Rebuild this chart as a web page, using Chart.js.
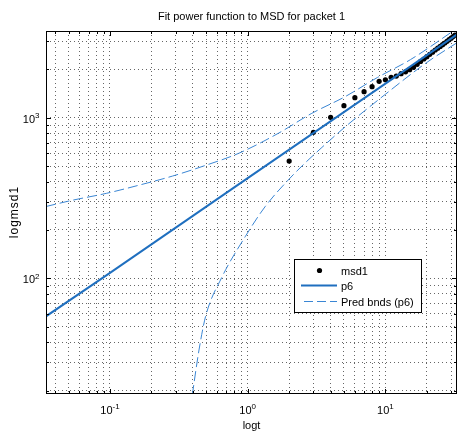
<!DOCTYPE html>
<html>
<head>
<meta charset="utf-8">
<script src="https://cdn.jsdelivr.net/npm/chart.js@4.4.1/dist/chart.umd.min.js"></script>
<style>
  html, body { margin: 0; padding: 0; background: #fff; }
  #wrap { width: 461px; height: 433px; }
</style>
</head>
<body>
<div id="wrap"><canvas id="c" width="461" height="433"></canvas></div>
<script>
// Mean squared displacement of packet 1 against time lag
const timeLag = [2, 3, 4, 5, 6, 7, 8, 9, 10, 11, 12, 13, 14, 15, 16, 17, 18, 19, 20,
                 21, 22, 23, 24, 25, 26, 27, 28, 29, 30, 31, 32];
const msd1 = [537, 811, 1006, 1188, 1332, 1452, 1560, 1685, 1724, 1784, 1818, 1880, 1930,
              1990, 2060, 2150, 2240, 2320, 2400, 2480, 2560, 2640, 2710, 2780, 2850,
              2920, 2990, 3060, 3130, 3200, 3270];

// Fitted power curve p6 (straight on log-log axes)
const fitT = [0.0343, 0.1, 1, 10, 33.1];
const fitY = [58, 108, 421, 1630, 3300];

// Prediction bounds of p6
const upperT = [0.0343, 0.054, 0.094, 0.164, 0.284, 0.494, 0.859, 1.67, 2.89, 5.04, 8.75, 15.2, 33.1];
const upperY = [280, 307, 338, 381, 433, 505, 600, 800, 1060, 1345, 1780, 2300, 3600];
const lowerT = [0.396, 0.443, 0.494, 0.651, 0.959, 1.336, 1.967, 2.594, 3.41, 5.0, 10, 20, 33.1];
const lowerY = [18.8, 35.8, 57.7, 102, 181.6, 279, 409, 520, 646, 864, 1400, 2210, 2930];

// Axis ranges, grid positions and labelled decades
const xRange = [0.0343, 33.1];
const yRange = [19.04, 3467];
const xGrid = [0.04, 0.05, 0.06, 0.07, 0.08, 0.09, 0.1, 0.2, 0.3, 0.4, 0.5, 0.6, 0.7, 0.8, 0.9,
               1, 2, 3, 4, 5, 6, 7, 8, 9, 10, 20, 30];
const yGrid = [20, 30, 40, 50, 60, 70, 80, 90, 100, 200, 300, 400, 500, 600, 700, 800, 900,
               1000, 2000, 3000];
const xDecades = [0.1, 1, 10];
const xExponents = ['-1', '0', '1'];
const yDecades = [100, 1000];
const yExponents = ['2', '3'];

const titleText = 'Fit power function to MSD for packet 1';
const xTitle = 'logt';
const yTitle = 'logmsd1';
const legendLabels = ['msd1', 'p6', 'Pred bnds (p6)'];

const FONT = '"Liberation Sans", Arial, Helvetica, sans-serif';
const FIT_COLOR = '#1f6fbf';
const BND_COLOR = '#3a86d4';

const toPoints = (xs, ys) => xs.map((x, i) => ({ x, y: ys[i] }));

// Frame, inward tick marks, decade labels, titles and legend
const decorations = {
  id: 'decorations',
  afterDraw(chart) {
    const ctx = chart.ctx;
    const a = chart.chartArea;
    const xs = chart.scales.x, ys = chart.scales.y;
    ctx.save();

    // inward ticks on all four sides
    ctx.strokeStyle = '#000';
    ctx.lineWidth = 1;
    ctx.beginPath();
    xGrid.forEach(v => {
      const px = Math.round(xs.getPixelForValue(v)) + 0.5;
      const len = xDecades.includes(v) ? 5 : 3;
      ctx.moveTo(px, a.bottom); ctx.lineTo(px, a.bottom - len);
      ctx.moveTo(px, a.top); ctx.lineTo(px, a.top + len);
    });
    yGrid.forEach(v => {
      const py = Math.round(ys.getPixelForValue(v)) + 0.5;
      const len = yDecades.includes(v) ? 5 : 3;
      ctx.moveTo(a.left, py); ctx.lineTo(a.left + len, py);
      ctx.moveTo(a.right, py); ctx.lineTo(a.right - len, py);
    });
    ctx.stroke();

    // frame
    ctx.strokeRect(Math.round(a.left) + 0.5, Math.round(a.top) + 0.5,
                   Math.round(a.right - a.left) - 1, Math.round(a.bottom - a.top) - 1);

    // decade labels 10^n
    ctx.fillStyle = '#000';
    ctx.textBaseline = 'alphabetic';
    xDecades.forEach((v, i) => {
      const px = xs.getPixelForValue(v);
      ctx.font = '11px ' + FONT;
      const wb = ctx.measureText('10').width;
      ctx.font = '8px ' + FONT;
      const we = ctx.measureText(xExponents[i]).width;
      const x0 = px - (wb + we) / 2;
      ctx.font = '11px ' + FONT;
      ctx.textAlign = 'left';
      ctx.fillText('10', x0, 414);
      ctx.font = '8px ' + FONT;
      ctx.fillText(xExponents[i], x0 + wb, 408.5);
    });
    yDecades.forEach((v, i) => {
      const py = ys.getPixelForValue(v);
      ctx.font = '8px ' + FONT;
      const we = ctx.measureText(yExponents[i]).width;
      const right = 39.5;
      ctx.textAlign = 'left';
      ctx.fillText(yExponents[i], right - we, py + 0.5);
      ctx.font = '11px ' + FONT;
      ctx.textAlign = 'right';
      ctx.fillText('10', right - we, py + 5);
    });

    // title
    ctx.font = '11px ' + FONT;
    ctx.textAlign = 'center';
    ctx.fillText(titleText, (a.left + a.right) / 2, 19.5);

    // y axis title, rotated
    ctx.save();
    ctx.translate(18, (a.top + a.bottom) / 2);
    ctx.rotate(-Math.PI / 2);
    ctx.font = '12px ' + FONT;
    ctx.letterSpacing = '1px';
    ctx.textAlign = 'center';
    ctx.fillText(yTitle, 0.5, 0);
    ctx.restore();

    // legend
    const bx = 294.5, by = 259.5, bw = 127, bh = 53;
    ctx.fillStyle = '#fff';
    ctx.fillRect(bx, by, bw, bh);
    ctx.strokeStyle = '#000';
    ctx.lineWidth = 1;
    ctx.strokeRect(bx, by, bw, bh);

    ctx.fillStyle = '#000';
    ctx.beginPath();
    ctx.arc(319.5, 270.5, 2.6, 0, Math.PI * 2);
    ctx.fill();

    ctx.strokeStyle = FIT_COLOR;
    ctx.lineWidth = 2;
    ctx.beginPath();
    ctx.moveTo(301, 285.5); ctx.lineTo(337, 285.5);
    ctx.stroke();

    ctx.strokeStyle = BND_COLOR;
    ctx.lineWidth = 1;
    ctx.setLineDash([9, 4]);
    ctx.beginPath();
    ctx.moveTo(304, 301.5); ctx.lineTo(337, 301.5);
    ctx.stroke();
    ctx.setLineDash([]);

    ctx.fillStyle = '#000';
    ctx.font = '11px ' + FONT;
    ctx.textAlign = 'left';
    ctx.fillText(legendLabels[0], 341, 274.5);
    ctx.fillText(legendLabels[1], 341, 290.3);
    ctx.fillText(legendLabels[2], 341, 306);

    ctx.restore();
  }
};

const gridOpts = { color: 'rgba(0,0,0,0.6)', lineWidth: 1, drawTicks: false };

new Chart(document.getElementById('c'), {
  type: 'scatter',
  data: {
    datasets: [
      {
        label: legendLabels[1],
        data: toPoints(fitT, fitY),
        showLine: true,
        borderColor: FIT_COLOR,
        borderWidth: 2,
        pointRadius: 0,
        order: 1
      },
      {
        label: legendLabels[2],
        data: toPoints(upperT, upperY),
        showLine: true,
        borderColor: BND_COLOR,
        borderWidth: 1,
        borderDash: [10, 4],
        pointRadius: 0,
        cubicInterpolationMode: 'monotone',
        order: 2
      },
      {
        label: legendLabels[2],
        data: toPoints(lowerT, lowerY),
        showLine: true,
        borderColor: BND_COLOR,
        borderWidth: 1,
        borderDash: [10, 4],
        pointRadius: 0,
        cubicInterpolationMode: 'monotone',
        order: 3
      },
      {
        label: legendLabels[0],
        data: toPoints(timeLag, msd1),
        showLine: false,
        backgroundColor: '#000',
        borderColor: '#000',
        pointRadius: 2.6,
        pointBorderWidth: 0,
        order: 10
      }
    ]
  },
  options: {
    responsive: false,
    animation: false,
    devicePixelRatio: 1,
    layout: { padding: { top: 31, right: 1, left: 0, bottom: 0 } },
    plugins: {
      legend: { display: false },
      title: { display: false },
      tooltip: { enabled: false }
    },
    scales: {
      x: {
        type: 'logarithmic',
        min: xRange[0],
        max: xRange[1],
        afterBuildTicks: s => { s.ticks = xGrid.map(v => ({ value: v })); },
        afterFit: s => { s.height = 39; },
        ticks: { display: false, autoSkip: false },
        grid: gridOpts,
        border: { display: false, dash: [1, 3] },
        title: {
          display: true, text: xTitle, color: '#000',
          font: { family: FONT, size: 11 }, padding: { top: 0, bottom: 0 }
        }
      },
      y: {
        type: 'logarithmic',
        min: yRange[0],
        max: yRange[1],
        afterBuildTicks: s => { s.ticks = yGrid.map(v => ({ value: v })); },
        afterFit: s => { s.width = 46; },
        ticks: { display: false, autoSkip: false },
        grid: gridOpts,
        border: { display: false, dash: [1, 3] },
        title: { display: false }
      }
    }
  },
  plugins: [decorations]
});
</script>
</body>
</html>
